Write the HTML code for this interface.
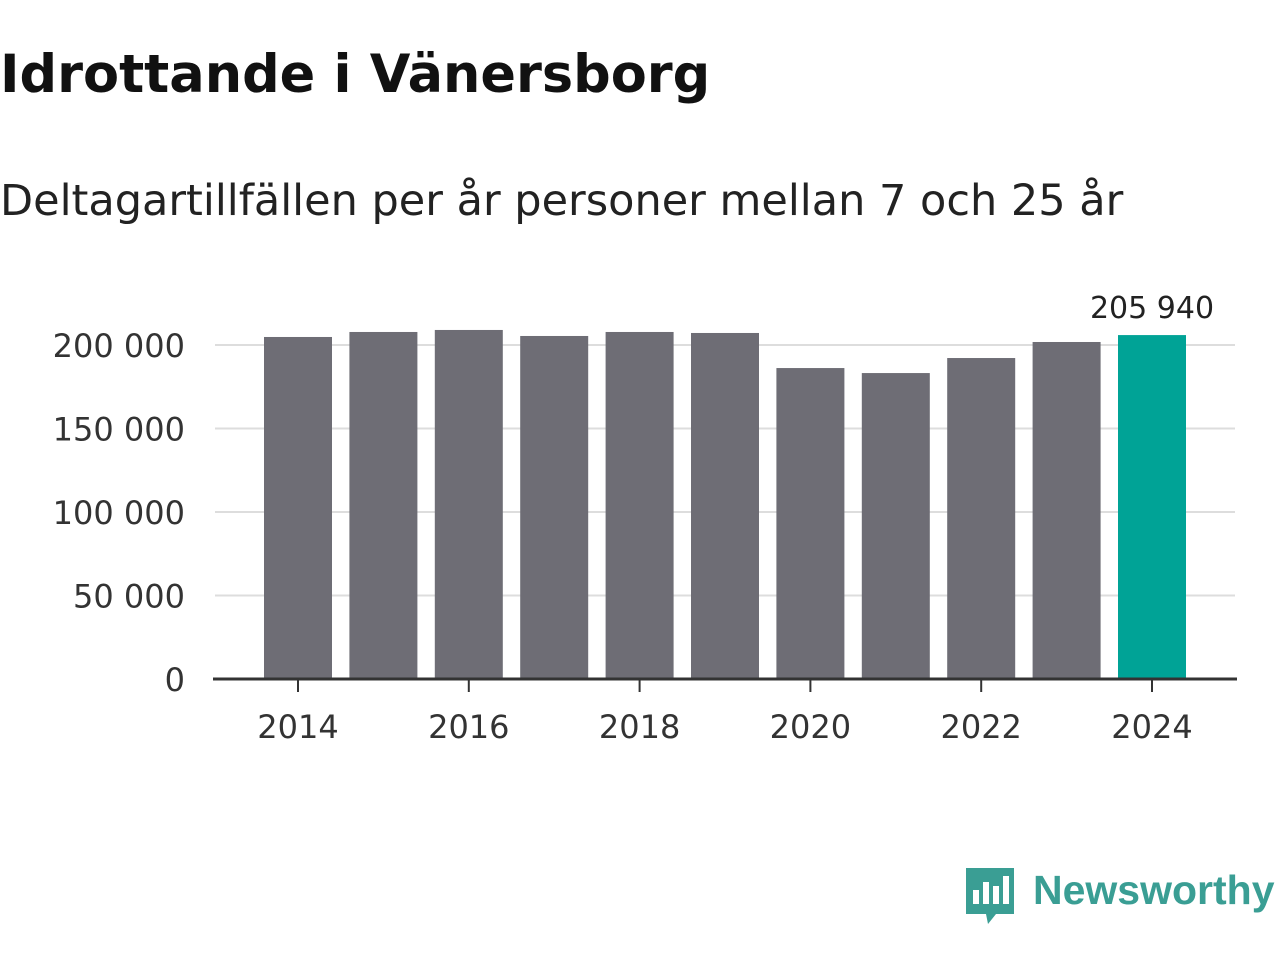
<!DOCTYPE html>
<html><head><meta charset="utf-8"><style>
body{margin:0;background:#fff;width:1280px;height:960px;overflow:hidden;font-family:"DejaVu Sans","Liberation Sans",sans-serif;}
</style></head><body>
<svg width="1280" height="960">
<text x="0" y="92" font-size="52.5" font-weight="bold" fill="#111">Idrottande i Vänersborg</text>
<text x="0" y="215" font-size="43" fill="#222">Deltagartillfällen per år personer mellan 7 och 25 år</text>
<g id="grid"></g><g id="bars"></g><g id="axes"></g>
<g>
<path d="M966 868 h48 v46 h-18 l-8 10 l-2 -10 h-20 z" fill="#3a9e94"/>
<rect x="973" y="890" width="6" height="14" fill="#fff"/><rect x="983" y="882" width="6" height="22" fill="#fff"/><rect x="993" y="886" width="6" height="18" fill="#fff"/><rect x="1003" y="876" width="6" height="28" fill="#fff"/>
<text x="1033" y="904" font-size="41" font-weight="bold" fill="#3a9e94" font-family="Liberation Sans, sans-serif">Newsworthy</text>
</g>
</svg>
<script>
const years=[2014,2015,2016,2017,2018,2019,2020,2021,2022,2023,2024];
const values=[204800,207800,209000,205400,207800,207200,186200,183200,192200,201800,205940];
const yTicks=[0,50000,100000,150000,200000];
const xTickYears=[2014,2016,2018,2020,2022,2024];
const ns="http://www.w3.org/2000/svg";
const y=v=>679-v*334/200000;
const x=yr=>298+(yr-2014)*85.4;
const fmt=v=>v.toLocaleString('en-US').replace(/,/g,' ');
function mk(t,a,p){const e=document.createElementNS(ns,t);for(const k in a)e.setAttribute(k,a[k]);document.getElementById(p).appendChild(e);return e;}
yTicks.forEach(v=>{
 if(v>0){const l=mk('line',{x1:215,x2:1235,y1:y(v),y2:y(v),stroke:'#ddd','stroke-width':2},'grid');
 
 }
 const t=mk('text',{x:185,y:y(v)+12,'text-anchor':'end','font-size':32,fill:'#333'},'axes');t.textContent=fmt(v);
 
 
});
years.forEach((yr,i)=>{
 const last=i===years.length-1;
 const r=mk('rect',{x:x(yr)-34,y:y(values[i]),width:68,height:679-y(values[i]),fill:last?'#00a396':'#6e6d75'},'bars');
 
 
 if(last){const t=mk('text',{x:x(yr),y:y(values[i])-17,'text-anchor':'middle','font-size':30,fill:'#222'},'bars');t.textContent=fmt(values[i]);
 
 }
});
const ax=mk('line',{x1:213,x2:1237,y1:679,y2:679,stroke:'#333','stroke-width':3},'axes');


xTickYears.forEach(yr=>{
 const tk=mk('line',{x1:x(yr),x2:x(yr),y1:679,y2:692,stroke:'#333','stroke-width':2},'axes');
 
 
 const t=mk('text',{x:x(yr),y:738,'text-anchor':'middle','font-size':32,fill:'#333'},'axes');t.textContent=yr;
 
 
});
</script>
</body></html>
